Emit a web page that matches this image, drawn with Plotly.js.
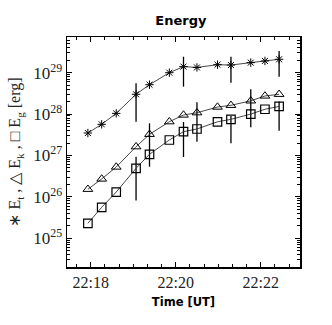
<!DOCTYPE html>
<html>
<head>
<meta charset="utf-8">
<script src="https://cdn.plot.ly/plotly-3.0.1.min.js"></script>
<style>html,body{margin:0;padding:0;background:#fff;}#chart{width:332px;height:325px;}</style>
</head>
<body>
<div id="chart"></div>
<script>
// Times of the measurements (UT)
const times = [
  '2000-01-01 22:17:56', '2000-01-01 22:18:15.5', '2000-01-01 22:18:36', '2000-01-01 22:19:04',
  '2000-01-01 22:19:23', '2000-01-01 22:19:51', '2000-01-01 22:20:11', '2000-01-01 22:20:30',
  '2000-01-01 22:20:59', '2000-01-01 22:21:18', '2000-01-01 22:21:46', '2000-01-01 22:22:06',
  '2000-01-01 22:22:26'
];
// Total energy E_t (asterisks)
const Et = [3.49e27, 5.67e27, 1.04e28, 3.01e28, 5.13e28, 1.0e29, 1.40e29, 1.34e29, 1.56e29, 1.53e29, 1.75e29, 1.92e29, 2.11e29];
const EtHigh = [null, null, null, 5.55e28, null, null, 2.43e29, null, null, 2.43e29, null, null, 3.34e29];
const EtLow  = [null, null, null, 6.55e27, null, null, 4.59e28, null, null, 5.73e28, null, null, 8.0e28];
// Kinetic energy E_k (triangles)
const Ek = [1.53e26, 2.71e26, 5.27e26, 1.63e27, 3.25e27, 6.55e27, 9.51e27, 1.08e28, 1.48e28, 1.63e28, 2.09e28, 2.74e28, 3.01e28];
const EkHigh = [null, null, null, null, 6.0e27, null, null, 1.93e28, null, null, 3.97e28, null, null];
const EkLow  = [null, null, null, null, 5.36e26, null, null, 2.15e27, null, null, 4.80e27, null, null];
// Gravitational energy E_g (squares)
const Eg = [2.30e25, 5.61e25, 1.31e26, 4.91e26, 1.07e27, 2.37e27, 3.76e27, 4.37e27, 6.52e27, 7.48e27, 1.0e28, 1.31e28, 1.53e28];
const EgHigh = [null, null, null, 9.35e26, null, null, 6.44e27, null, null, 9.0e27, null, null, 2.01e28];
const EgLow  = [null, null, null, 8.18e25, null, null, 9.2e26, null, null, 1.97e27, null, null, 3.97e27];

const xTickVals = ['2000-01-01 22:18', '2000-01-01 22:20', '2000-01-01 22:22'];
const xTickText = ['22:18', '22:20', '22:22'];
const yTickVals = [1e25, 1e26, 1e27, 1e28, 1e29];
const yTickText = ['10<sup>25</sup>', '10<sup>26</sup>', '10<sup>27</sup>', '10<sup>28</sup>', '10<sup>29</sup>'];
// minor tick positions on the log axis (2..9 in each decade)
const yMinorVals = [];
for (let e = 24; e <= 29; e++) for (let m = 2; m <= 9; m++) yMinorVals.push(m * Math.pow(10, e));

function errs(v, hi, lo) {
  return {
    type: 'data', symmetric: false,
    array: v.map((d, i) => hi[i] == null ? 0 : hi[i] - d),
    arrayminus: v.map((d, i) => lo[i] == null ? 0 : d - lo[i]),
    color: '#000', thickness: 1.3, width: 0
  };
}

function series(v, hi, lo, symbol, size, lw) {
  return {
    x: times, y: v, type: 'scatter', mode: 'lines+markers',
    line: {color: '#333', width: 0.9},
    marker: {symbol: symbol, size: size, color: '#000', line: {color: '#000', width: lw}},
    error_y: errs(v, hi, lo),
    showlegend: false, cliponaxis: false
  };
}

const data = [
  series(Et, EtHigh, EtLow, 'asterisk-open', 7, 1),
  series(Ek, EkHigh, EkLow, 'triangle-up-open', 8.5, 1),
  series(Eg, EgHigh, EgLow, 'square-open', 8.5, 1.2)
];

const serif = 'Liberation Serif, Times New Roman, serif';
const sans = 'DejaVu Sans, Verdana, sans-serif';
const layout = {
  width: 332, height: 325,
  margin: {l: 67, r: 32, t: 37, b: 58},
  paper_bgcolor: '#fff', plot_bgcolor: '#fff',
  title: {
    text: '<b>Energy</b>', font: {family: sans, size: 13, color: '#000'},
    x: 0.545, xanchor: 'center', xref: 'container', y: 1 - 20 / 325, yref: 'container', yanchor: 'middle'
  },
  xaxis: {
    type: 'date',
    range: ['2000-01-01 22:17:26.5', '2000-01-01 22:22:55.5'],
    tickvals: xTickVals, ticktext: xTickText,
    ticks: 'inside', ticklen: 5, tickwidth: 1, tickcolor: '#000',
    minor: {dtick: 20000, ticks: 'inside', ticklen: 3, tickwidth: 1, tickcolor: '#000', showgrid: false},
    showline: true, linecolor: '#000', linewidth: 1.5, mirror: 'ticks',
    showgrid: false, zeroline: false,
    tickfont: {family: serif, size: 16, color: '#222'},
    title: {text: '<b>Time [UT]</b>', font: {family: sans, size: 11.5, color: '#000'}, standoff: 8}
  },
  yaxis: {
    type: 'log',
    range: [24.307, 29.862],
    tickmode: 'array', tickvals: yTickVals, ticktext: yTickText,
    ticks: 'inside', ticklen: 5, tickwidth: 1, tickcolor: '#000',
    minor: {tickmode: 'array', tickvals: yMinorVals, ticks: 'inside', ticklen: 3, tickwidth: 1, tickcolor: '#000', showgrid: false},
    showline: true, linecolor: '#000', linewidth: 1.5, mirror: 'ticks',
    showgrid: false, zeroline: false,
    tickfont: {family: serif, size: 17, color: '#222'},
    title: {
      text: '∗ E<sub>t</sub> , △ E<sub>k</sub> , □ E<sub>g</sub> [erg]',
      font: {family: serif, size: 16, color: '#222'}, standoff: 8
    }
  }
};

Plotly.newPlot('chart', data, layout, {displayModeBar: false, staticPlot: true});
</script>
</body>
</html>
